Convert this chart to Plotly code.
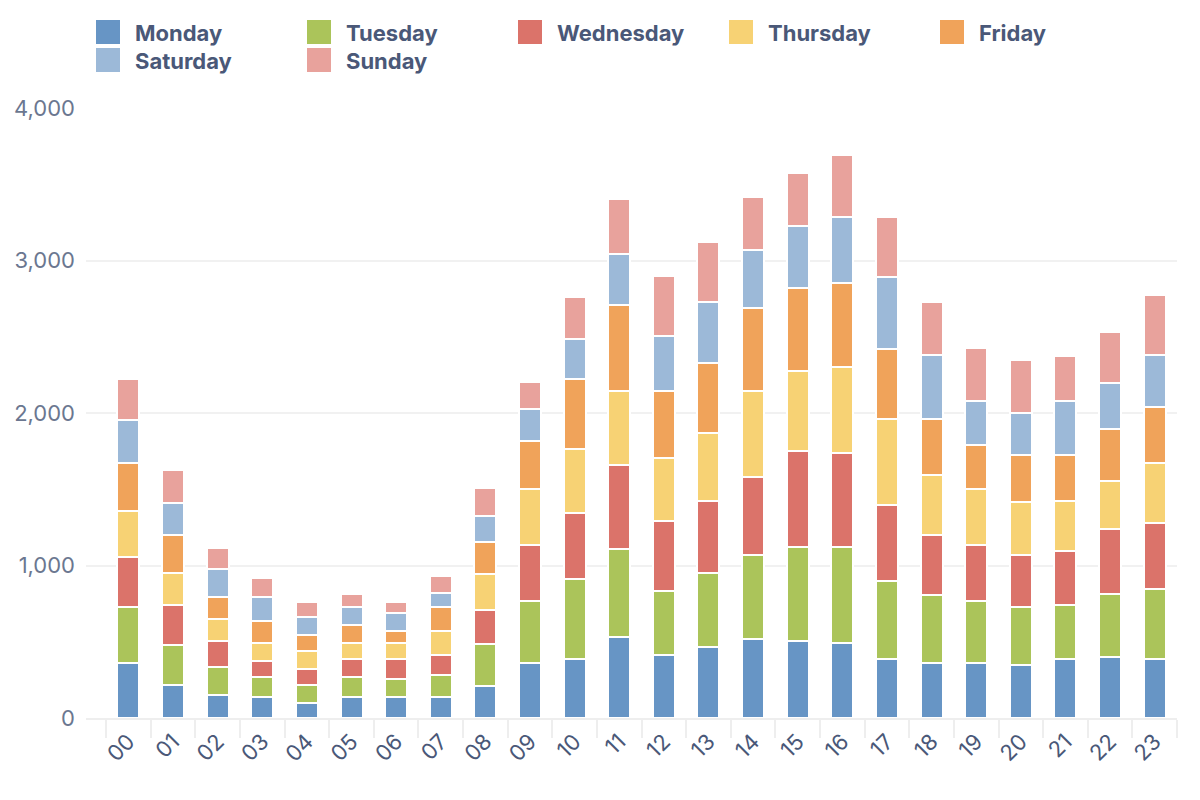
import plotly.graph_objects as go

hours = ["00", "01", "02", "03", "04", "05", "06", "07", "08", "09", "10", "11",
         "12", "13", "14", "15", "16", "17", "18", "19", "20", "21", "22", "23"]

monday = [360, 216, 151, 138, 98, 138, 138, 138, 209, 359, 385, 531,
          411, 465, 516, 505, 494, 388, 361, 361, 348, 388, 401, 388]
tuesday = [367, 262, 183, 130, 118, 130, 117, 144, 277, 406, 526, 577,
           420, 486, 552, 617, 629, 512, 446, 408, 381, 354, 409, 459]
wednesday = [327, 262, 170, 105, 105, 118, 131, 131, 223, 369, 434, 552,
             460, 472, 514, 629, 616, 496, 394, 366, 341, 353, 431, 431]
thursday = [301, 210, 144, 118, 118, 105, 105, 157, 237, 368, 420, 486,
            411, 446, 564, 526, 562, 564, 395, 366, 344, 329, 315, 394]
friday = [314, 248, 144, 144, 105, 118, 79, 157, 209, 315, 460, 565,
          444, 460, 542, 540, 551, 459, 364, 288, 310, 300, 336, 366]
saturday = [288, 210, 184, 157, 117, 118, 118, 91, 171, 211, 263, 329,
            356, 396, 378, 406, 431, 471, 418, 289, 276, 354, 303, 340]
sunday = [268, 216, 137, 125, 99, 85, 72, 112, 183, 176, 270, 361,
          399, 399, 349, 350, 411, 398, 349, 346, 346, 293, 334, 399]

series_names = ["Monday", "Tuesday", "Wednesday", "Thursday", "Friday", "Saturday", "Sunday"]
series_values = [monday, tuesday, wednesday, thursday, friday, saturday, sunday]
colors = ["#6795c5", "#abc45a", "#db736a", "#f7d274", "#f0a35a", "#9cb9d8", "#e8a29c"]

y_ticks = [0, 1000, 2000, 3000, 4000]

W, H = 1200, 800
L, R, T, B = 86, 23, 108, 82
PW, PH = W - L - R, H - T - B

fig = go.Figure()
for name, vals, col in zip(series_names, series_values, colors):
    fig.add_trace(go.Bar(
        x=hours, y=vals, name=name,
        marker=dict(color=col, line=dict(color="#ffffff", width=2)),
        showlegend=False,
    ))

# custom legend (square swatches + bold labels)
def px_to_paper_x(px):
    return (px - L) / PW

def px_to_paper_y(py):
    return (H - B - py) / PH

shapes = []
annotations = []
for i, (name, col) in enumerate(zip(series_names, colors)):
    row, c = divmod(i, 5)
    sx = 96 + 211 * c
    sy = 20 + 28 * row
    shapes.append(dict(
        type="rect", xref="paper", yref="paper",
        x0=px_to_paper_x(sx), x1=px_to_paper_x(sx + 24),
        y0=px_to_paper_y(sy + 24), y1=px_to_paper_y(sy),
        fillcolor=col, line=dict(width=0),
    ))
    annotations.append(dict(
        xref="paper", yref="paper",
        x=px_to_paper_x(133 + 211 * c), y=px_to_paper_y(sy + 13),
        text=f"<b>{name}</b>", showarrow=False,
        xanchor="left", yanchor="middle",
        font=dict(family="Inter, sans-serif", size=22, color="#4a5878"),
    ))

fig.update_layout(
    width=W, height=H,
    margin=dict(l=L, r=R, t=T, b=B),
    paper_bgcolor="#ffffff", plot_bgcolor="#ffffff",
    barmode="stack", bargap=0.507,
    font=dict(family="Inter, sans-serif"),
    shapes=shapes, annotations=annotations,
    xaxis=dict(
        type="category", range=[-0.95, 23.5],
        tickangle=-45, tickson="boundaries",
        ticks="outside", ticklen=18, tickwidth=2, tickcolor="#eeeeee",
        showline=True, linecolor="#eeeeee", linewidth=2,
        showgrid=False,
        tickfont=dict(family="Inter, sans-serif", size=22, color="#4a5878"),
    ),
    yaxis=dict(
        range=[0, 4000], tickvals=y_ticks, tickformat=",",
        showgrid=True, gridcolor="#f1f1f1", gridwidth=2,
        zeroline=False, showline=False, ticks="",
        ticklabelstandoff=10,
        tickfont=dict(family="Inter, sans-serif", size=22, color="#6b7790"),
    ),
)

fig.write_html("out.html")
